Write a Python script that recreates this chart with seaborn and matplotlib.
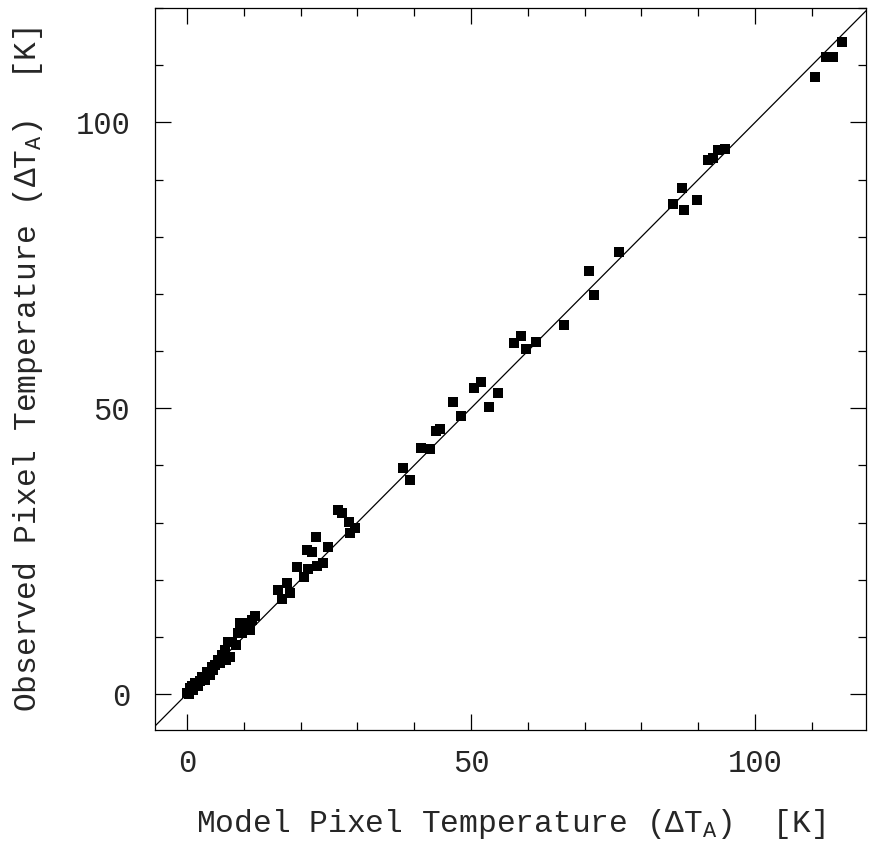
import numpy as np
import pandas as pd
import matplotlib
matplotlib.use("Agg")
import matplotlib.pyplot as plt
import seaborn as sns
from matplotlib.ticker import MultipleLocator

model_temp = [110.6, 112.5, 113.7, 115.3, 94.7, 93.5, 92.6, 91.7, 89.8, 87.5, 87.1, 85.6,
              76.1, 70.8, 71.7, 66.4, 57.6, 58.8, 59.7, 61.4, 50.5, 51.8, 54.8, 53.2,
              46.8, 48.2, 43.8, 44.5, 41.2, 42.8, 38.0, 39.3,
              26.6, 27.3, 28.5, 29.6, 28.7, 22.7, 24.8, 21.1, 22.0, 23.9, 22.9, 19.4, 21.3,
              17.6, 16.0, 18.1, 16.7, 20.6,
              12.0, 11.4, 9.3, 10.6, 10.2, 9.7, 11.1, 9.0, 7.2, 7.9, 6.7, 7.6, 6.9, 5.5,
              4.4, 4.9, 3.5, 4.0, 2.6, 3.2, 1.4, 1.9, 0.5, 1.1, 0.0, 0.4, 6.2, 5.8, 2.3,
              0.9, 4.6, 8.6]
observed_temp = [107.9, 111.4, 111.4, 114.0, 95.3, 95.1, 93.7, 93.4, 86.4, 84.6, 88.5, 85.7,
                 77.3, 74.0, 69.8, 64.5, 61.4, 62.6, 60.3, 61.5, 53.5, 54.5, 52.6, 50.2,
                 51.0, 48.6, 46.0, 46.3, 43.0, 42.8, 39.5, 37.4,
                 32.2, 31.6, 30.1, 29.0, 28.1, 27.4, 25.7, 25.2, 24.8, 22.9, 22.4, 22.2, 21.9,
                 19.4, 18.2, 17.7, 16.6, 20.5,
                 13.6, 12.9, 12.4, 12.4, 11.7, 10.7, 11.2, 10.7, 9.1, 9.1, 7.7, 6.5, 5.9, 5.9,
                 4.7, 5.1, 3.8, 3.3, 3.0, 2.4, 1.9, 1.4, 1.0, 0.7, 0.2, 0.0, 6.8, 5.4, 2.3,
                 1.4, 4.2, 8.6]
x_ticks = [0, 50, 100]
y_ticks = [0, 50, 100]
diag = [-20, 140]

df = pd.DataFrame({"model": model_temp, "observed": observed_temp})

sns.set_style("ticks")
plt.rcParams["font.family"] = ["Liberation Mono", "DejaVu Sans Mono"]
plt.rcParams["mathtext.fontset"] = "custom"
plt.rcParams["mathtext.rm"] = "Liberation Mono"
plt.rcParams["mathtext.it"] = "Liberation Mono:italic"

fig = plt.figure(figsize=(8.69, 8.43), dpi=100)
ax = fig.add_axes([0.1784, 0.134, 0.8181, 0.8565])

ax.plot(diag, diag, color="black", lw=0.9, zorder=1)
sns.scatterplot(data=df, x="model", y="observed", marker="s", color="black",
                s=42, linewidth=0, ax=ax, zorder=2)

ax.set_xlim(-5.6, 119.5)
ax.set_ylim(-6.3, 120)
ax.set_xticks(x_ticks)
ax.set_yticks(y_ticks)
ax.xaxis.set_minor_locator(MultipleLocator(10))
ax.yaxis.set_minor_locator(MultipleLocator(10))
ax.tick_params(which="both", direction="in", top=True, right=True, width=0.9, color="black")
ax.tick_params(which="major", length=11.5, labelsize=22)
ax.tick_params(which="minor", length=5.8)
ax.tick_params(axis="x", which="major", pad=14)
ax.tick_params(axis="y", which="major", pad=18)
for sp in ax.spines.values():
    sp.set_linewidth(0.9)
    sp.set_color("black")

ax.set_xlabel("Model Pixel Temperature (ΔT$_{\\rm A}$)  [K]", fontsize=22.5, labelpad=20)
ax.set_ylabel("Observed Pixel Temperature (ΔT$_{\\rm A}$)  [K]", fontsize=22.5, labelpad=22)

fig.savefig("out.png", dpi=100)
